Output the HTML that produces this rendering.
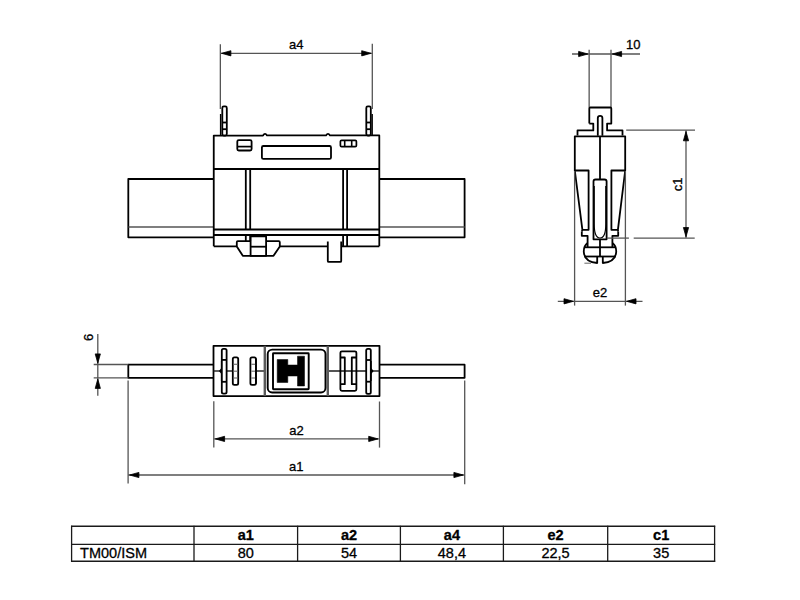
<!DOCTYPE html>
<html><head><meta charset="utf-8"><style>
html,body{margin:0;padding:0;background:#fff;width:800px;height:600px;overflow:hidden}
svg{position:absolute;left:0;top:0}
text{font-family:"Liberation Sans",sans-serif}
</style></head><body>
<svg width="800" height="600" viewBox="0 0 800 600" stroke-linecap="butt" stroke-linejoin="round">
<path d="M213.75,179 H128.3 V237.3 H213.75" stroke="#000" stroke-width="1.8" fill="none" />
<line x1="128.5" y1="227" x2="213.75" y2="227" stroke="#555" stroke-width="1.4" />
<path d="M379.3,179 H464.6 V237.3 H379.3" stroke="#000" stroke-width="1.8" fill="none" />
<line x1="379.3" y1="227" x2="464.6" y2="227" stroke="#555" stroke-width="1.4" />
<path d="M213.75,246.3 V135.6 H263 Q265,132.4 267,135.4 H326 Q328,132.4 330,135.4 H379.3 V246.3" stroke="#000" stroke-width="1.8" fill="none" />
<path d="M213.75,246.3 H236.8 M279.8,246.3 H327.8 M341.2,246.3 H379.3" stroke="#000" stroke-width="1.8" fill="none" />
<line x1="213.75" y1="169" x2="379.3" y2="169" stroke="#000" stroke-width="1.8" />
<line x1="213.75" y1="229.5" x2="379.3" y2="229.5" stroke="#000" stroke-width="1.8" />
<line x1="213.75" y1="235" x2="379.3" y2="235" stroke="#000" stroke-width="1.8" />
<line x1="245.8" y1="169" x2="245.8" y2="229.5" stroke="#000" stroke-width="1.8" />
<line x1="245.8" y1="235" x2="245.8" y2="241.3" stroke="#000" stroke-width="1.8" />
<line x1="250.2" y1="169" x2="250.2" y2="229.5" stroke="#000" stroke-width="1.8" />
<line x1="250.2" y1="235" x2="250.2" y2="241.3" stroke="#000" stroke-width="1.8" />
<line x1="343.1" y1="169" x2="343.1" y2="229.5" stroke="#000" stroke-width="1.8" />
<line x1="343.1" y1="235" x2="343.1" y2="246.3" stroke="#000" stroke-width="1.8" />
<line x1="347.1" y1="169" x2="347.1" y2="229.5" stroke="#000" stroke-width="1.8" />
<line x1="347.1" y1="235" x2="347.1" y2="246.3" stroke="#000" stroke-width="1.8" />
<rect x="237.3" y="140.1" width="14.3" height="10.4" rx="1.5" stroke="#000" stroke-width="1.8" fill="none"/>
<line x1="237.3" y1="146.6" x2="251.6" y2="146.6" stroke="#000" stroke-width="1.7" />
<rect x="261.9" y="146" width="69.1" height="12.9" rx="1.5" stroke="#000" stroke-width="1.8" fill="none"/>
<rect x="340.4" y="140.4" width="16" height="6.3" rx="1.2" stroke="#000" stroke-width="1.7" fill="none"/>
<line x1="344.7" y1="140.4" x2="344.7" y2="146.7" stroke="#000" stroke-width="1.6" />
<line x1="351.7" y1="140.4" x2="351.7" y2="146.7" stroke="#000" stroke-width="1.6" />
<rect x="222.3" y="106.4" width="4.5" height="29.2" rx="1.5" stroke="#000" stroke-width="1.8" fill="none"/>
<line x1="220.6" y1="114" x2="220.6" y2="135.6" stroke="#000" stroke-width="1.4" />
<line x1="222.3" y1="122.5" x2="226.8" y2="122.5" stroke="#000" stroke-width="1.8" />
<line x1="222.3" y1="129.2" x2="226.8" y2="129.2" stroke="#000" stroke-width="1.8" />
<rect x="366.3" y="106.4" width="4.5" height="29.2" rx="1.5" stroke="#000" stroke-width="1.8" fill="none"/>
<line x1="372.2" y1="114" x2="372.2" y2="135.6" stroke="#000" stroke-width="1.4" />
<line x1="366.3" y1="122.5" x2="370.8" y2="122.5" stroke="#000" stroke-width="1.8" />
<line x1="366.3" y1="129.2" x2="370.8" y2="129.2" stroke="#000" stroke-width="1.8" />
<path d="M250.6,241.2 H237.8 Q236.8,241.2 236.8,242.2 V246.5 L242.8,255.8 H273.5 L279.8,246.5 V242.2 Q279.8,241.2 278.8,241.2 H266.1" stroke="#000" stroke-width="1.8" fill="none" />
<rect x="250.6" y="236.4" width="15.5" height="19.4" rx="0" stroke="#000" stroke-width="1.8" fill="none"/>
<line x1="250.6" y1="246.7" x2="266.1" y2="246.7" stroke="#000" stroke-width="1.8" />
<path d="M327.8,241.5 V260.9 Q327.8,261.9 328.8,261.9 H340.2 Q341.2,261.9 341.2,260.9 V241.5" stroke="#000" stroke-width="1.8" fill="none" />
<line x1="220.35" y1="44.3" x2="220.35" y2="109" stroke="#555" stroke-width="1.3" />
<line x1="372.3" y1="43.8" x2="372.3" y2="109" stroke="#555" stroke-width="1.3" />
<line x1="220.35" y1="53.3" x2="372.3" y2="53.3" stroke="#555" stroke-width="1.3" />
<polygon points="221.60,53.30 230.90,50.70 230.90,55.90" fill="#000" stroke="#000" stroke-width="0.8" stroke-linejoin="round"/>
<polygon points="371.00,53.30 361.70,50.70 361.70,55.90" fill="#000" stroke="#000" stroke-width="0.8" stroke-linejoin="round"/>
<text x="296.3" y="48.8" font-size="13" text-anchor="middle" fill="#000" stroke="#000" stroke-width="0.3">a4</text>
<line x1="589.15" y1="49.7" x2="589.15" y2="107.5" stroke="#555" stroke-width="1.3" />
<line x1="611" y1="49.7" x2="611" y2="107.5" stroke="#555" stroke-width="1.3" />
<line x1="572" y1="54" x2="640" y2="54" stroke="#555" stroke-width="1.3" />
<polygon points="587.90,54.00 578.60,51.40 578.60,56.60" fill="#000" stroke="#000" stroke-width="0.8" stroke-linejoin="round"/>
<polygon points="612.30,54.00 621.60,51.40 621.60,56.60" fill="#000" stroke="#000" stroke-width="0.8" stroke-linejoin="round"/>
<text x="633.3" y="49.4" font-size="13" text-anchor="middle" fill="#000" stroke="#000" stroke-width="0.3">10</text>
<path d="M589.3,123.6 V108.5 Q589.3,107.5 590.3,107.5 H610.3 Q611.3,107.5 611.3,108.5 V123.6 H607.1 V130.4 H622.5 V135.6 M589.3,123.6 H593.3 V130.4 H577.5 V135.6" stroke="#000" stroke-width="1.8" fill="none" />
<path d="M597.8,135.8 V118 Q597.8,115.8 600.1,115.8 Q602.4,115.8 602.4,118 V135.8" stroke="#000" stroke-width="1.8" fill="none" />
<path d="M574.8,170.5 V136.3 H625.2 V170.5" stroke="#000" stroke-width="1.8" fill="none" />
<line x1="600" y1="136.3" x2="600" y2="179.5" stroke="#000" stroke-width="1.8" />
<path d="M574.8,170.5 H588.6 V229.8 H582.4 Z M582.4,229.8 L581.8,231.5" stroke="#000" stroke-width="1.8" fill="none" />
<path d="M625.2,170.5 H611.4 V229.8 H617.9 Z M617.9,229.8 L618.2,231.5" stroke="#000" stroke-width="1.8" fill="none" />
<path d="M581.8,231.5 V235.8 H587.6 V247.3" stroke="#000" stroke-width="1.8" fill="none" />
<path d="M618.2,231.5 V235.8 H612.4 V247.3" stroke="#000" stroke-width="1.8" fill="none" />
<path d="M593.5,239.3 V181.5 Q593.5,179.5 595.5,179.5 H604.5 Q606.6,179.5 606.6,181.5 V239.3 Z" stroke="#000" stroke-width="1.8" fill="none" />
<path d="M594.2,186 V224 Q594.2,238 600,238 Q605.8,238 605.8,224 V186" stroke="#000" stroke-width="1.2" fill="none" />
<path d="M587.6,243 Q583.5,246 583.8,252 Q584.5,262 597.2,263 V256.5" stroke="#000" stroke-width="1.8" fill="none" />
<path d="M612.4,243 Q616.5,246 616.2,252 Q615.5,262 602.8,263 V256.5" stroke="#000" stroke-width="1.8" fill="none" />
<line x1="584.3" y1="247.3" x2="615.7" y2="247.3" stroke="#000" stroke-width="1.8" />
<line x1="584.3" y1="256.5" x2="615.7" y2="256.5" stroke="#000" stroke-width="1.8" />
<line x1="600" y1="239.3" x2="600" y2="256.5" stroke="#000" stroke-width="1.8" />
<line x1="584.4" y1="263.2" x2="591" y2="263.2" stroke="#666" stroke-width="1.0" />
<line x1="574.6" y1="171" x2="574.6" y2="305.6" stroke="#555" stroke-width="1.3" />
<line x1="625.4" y1="171" x2="625.4" y2="305.6" stroke="#555" stroke-width="1.3" />
<line x1="557.8" y1="301.3" x2="642.5" y2="301.3" stroke="#555" stroke-width="1.3" />
<polygon points="573.30,301.30 564.00,298.70 564.00,303.90" fill="#000" stroke="#000" stroke-width="0.8" stroke-linejoin="round"/>
<polygon points="626.70,301.30 636.00,298.70 636.00,303.90" fill="#000" stroke="#000" stroke-width="0.8" stroke-linejoin="round"/>
<text x="600" y="296.8" font-size="13" text-anchor="middle" fill="#000" stroke="#000" stroke-width="0.3">e2</text>
<line x1="626.2" y1="130.2" x2="695" y2="130.2" stroke="#555" stroke-width="1.3" />
<line x1="606.8" y1="238.1" x2="628.9" y2="238.1" stroke="#555" stroke-width="1.3" />
<line x1="633.7" y1="238.1" x2="694.7" y2="238.1" stroke="#555" stroke-width="1.3" />
<line x1="686" y1="130.2" x2="686" y2="238.1" stroke="#555" stroke-width="1.3" />
<polygon points="686.00,131.50 683.40,140.80 688.60,140.80" fill="#000" stroke="#000" stroke-width="0.8" stroke-linejoin="round"/>
<polygon points="686.00,236.80 683.40,227.50 688.60,227.50" fill="#000" stroke="#000" stroke-width="0.8" stroke-linejoin="round"/>
<text x="682" y="184.4" font-size="13" text-anchor="middle" fill="#000" stroke="#000" stroke-width="0.3" transform="rotate(-90 682 184.4)">c1</text>
<path d="M213.5,364.7 H128.3 V377.8 H213.5" stroke="#000" stroke-width="1.8" fill="none" />
<path d="M379.5,364.7 H464.6 V377.8 H379.5" stroke="#000" stroke-width="1.8" fill="none" />
<rect x="213.5" y="345.8" width="166" height="50.3" rx="0" stroke="#000" stroke-width="1.8" fill="none"/>
<line x1="213.5" y1="371" x2="221.8" y2="371" stroke="#1a1a1a" stroke-width="1.4" />
<line x1="226.6" y1="371" x2="232.7" y2="371" stroke="#1a1a1a" stroke-width="1.4" />
<line x1="255.8" y1="371" x2="264.9" y2="371" stroke="#1a1a1a" stroke-width="1.4" />
<line x1="327.9" y1="371" x2="366.2" y2="371" stroke="#1a1a1a" stroke-width="1.4" />
<line x1="371" y1="371" x2="379.5" y2="371" stroke="#1a1a1a" stroke-width="1.4" />
<line x1="264.8" y1="345.8" x2="264.8" y2="396.1" stroke="#5a5a5a" stroke-width="2.4" />
<line x1="327.8" y1="345.8" x2="327.8" y2="396.1" stroke="#5a5a5a" stroke-width="2.4" />
<rect x="221.8" y="348.8" width="4.799999999999983" height="44.80000000000001" rx="1.6" stroke="#000" stroke-width="1.8" fill="none"/>
<line x1="221.8" y1="359.9" x2="226.6" y2="359.9" stroke="#000" stroke-width="1.8" />
<line x1="221.8" y1="381.8" x2="226.6" y2="381.8" stroke="#000" stroke-width="1.8" />
<line x1="221.5" y1="361" x2="221.5" y2="381" stroke="#000" stroke-width="1.2" />
<rect x="232.8" y="357.3" width="5.399999999999977" height="27.599999999999966" rx="1.6" stroke="#000" stroke-width="1.8" fill="none"/>
<rect x="250.4" y="357.3" width="5.5" height="27.599999999999966" rx="1.6" stroke="#000" stroke-width="1.8" fill="none"/>
<line x1="256.2" y1="358.5" x2="256.2" y2="383.7" stroke="#000" stroke-width="1.3" />
<line x1="233.6" y1="364.3" x2="237.4" y2="364.3" stroke="#777" stroke-width="1.2" />
<line x1="251.2" y1="364.3" x2="255.1" y2="364.3" stroke="#777" stroke-width="1.2" />
<line x1="233.6" y1="371.2" x2="237.4" y2="371.2" stroke="#777" stroke-width="1.2" />
<line x1="251.2" y1="371.2" x2="255.1" y2="371.2" stroke="#777" stroke-width="1.2" />
<line x1="233.6" y1="378" x2="237.4" y2="378" stroke="#777" stroke-width="1.2" />
<line x1="251.2" y1="378" x2="255.1" y2="378" stroke="#777" stroke-width="1.2" />
<rect x="366.2" y="348.8" width="4.600000000000023" height="45.0" rx="1.6" stroke="#000" stroke-width="1.8" fill="none"/>
<line x1="366.2" y1="360" x2="370.8" y2="360" stroke="#000" stroke-width="1.8" />
<line x1="366.2" y1="381.7" x2="370.8" y2="381.7" stroke="#000" stroke-width="1.8" />
<line x1="371.1" y1="361" x2="371.1" y2="381" stroke="#000" stroke-width="1.2" />
<polygon points="221.8,367.5 218.9,371 221.8,374.5" fill="#000"/>
<polygon points="370.8,367.5 373.6,371 370.8,374.5" fill="#000"/>
<rect x="267.7" y="349.6" width="57.8" height="42.9" rx="4.5" stroke="#000" stroke-width="1.9" fill="none"/>
<rect x="273" y="353.3" width="35.7" height="36" rx="0.5" stroke="#000" stroke-width="1.9" fill="none"/>
<path d="M277.2,359.5 H287.8 V365 H297.5 V356.2 H304.5 V386 H297.5 V376 H287.8 V382.5 H277.2 Z" stroke="#000" stroke-width="0.5" fill="#000" />
<rect x="340.4" y="351.3" width="16" height="39.5" rx="1.5" stroke="#000" stroke-width="1.8" fill="none"/>
<path d="M340.4,357.5 H344.8 V384.2 H340.4 M356.4,357.5 H351.8 V384.2 H356.4" stroke="#000" stroke-width="1.8" fill="none" />
<line x1="97.8" y1="334" x2="97.8" y2="395.7" stroke="#555" stroke-width="1.3" />
<line x1="93.7" y1="364.5" x2="128.3" y2="364.5" stroke="#555" stroke-width="1.3" />
<line x1="93.7" y1="377.8" x2="128.3" y2="377.8" stroke="#555" stroke-width="1.3" />
<polygon points="97.80,363.20 95.20,353.90 100.40,353.90" fill="#000" stroke="#000" stroke-width="0.8" stroke-linejoin="round"/>
<polygon points="97.80,379.10 95.20,388.40 100.40,388.40" fill="#000" stroke="#000" stroke-width="0.8" stroke-linejoin="round"/>
<text x="93.4" y="337.3" font-size="13" text-anchor="middle" fill="#000" stroke="#000" stroke-width="0.3" transform="rotate(-90 93.4 337.3)">6</text>
<line x1="128.1" y1="380.5" x2="128.1" y2="483.6" stroke="#555" stroke-width="1.3" />
<line x1="213.8" y1="401.3" x2="213.8" y2="447.6" stroke="#555" stroke-width="1.3" />
<line x1="379.5" y1="401.5" x2="379.5" y2="447.6" stroke="#555" stroke-width="1.3" />
<line x1="464.7" y1="380.4" x2="464.7" y2="484.3" stroke="#555" stroke-width="1.3" />
<line x1="213.8" y1="438.9" x2="379.5" y2="438.9" stroke="#555" stroke-width="1.3" />
<polygon points="215.30,438.90 224.60,436.30 224.60,441.50" fill="#000" stroke="#000" stroke-width="0.8" stroke-linejoin="round"/>
<polygon points="378.00,438.90 368.70,436.30 368.70,441.50" fill="#000" stroke="#000" stroke-width="0.8" stroke-linejoin="round"/>
<text x="296.6" y="435.2" font-size="13" text-anchor="middle" fill="#000" stroke="#000" stroke-width="0.3">a2</text>
<line x1="128.1" y1="475" x2="464.7" y2="475" stroke="#555" stroke-width="1.3" />
<polygon points="129.60,475.00 138.90,472.40 138.90,477.60" fill="#000" stroke="#000" stroke-width="0.8" stroke-linejoin="round"/>
<polygon points="463.20,475.00 453.90,472.40 453.90,477.60" fill="#000" stroke="#000" stroke-width="0.8" stroke-linejoin="round"/>
<text x="296.3" y="470.7" font-size="13" text-anchor="middle" fill="#000" stroke="#000" stroke-width="0.3">a1</text>
<line x1="71" y1="526.3" x2="715.2" y2="526.3" stroke="#1a1a1a" stroke-width="1.4" />
<line x1="71" y1="544.4" x2="715.2" y2="544.4" stroke="#1a1a1a" stroke-width="1.4" />
<line x1="71" y1="561.2" x2="715.2" y2="561.2" stroke="#1a1a1a" stroke-width="1.4" />
<line x1="71.6" y1="525.75" x2="71.6" y2="561.95" stroke="#1a1a1a" stroke-width="1.3" />
<line x1="194" y1="525.75" x2="194" y2="561.95" stroke="#1a1a1a" stroke-width="1.3" />
<line x1="297.6" y1="525.75" x2="297.6" y2="561.95" stroke="#1a1a1a" stroke-width="1.3" />
<line x1="400.4" y1="525.75" x2="400.4" y2="561.95" stroke="#1a1a1a" stroke-width="1.3" />
<line x1="503.4" y1="525.75" x2="503.4" y2="561.95" stroke="#1a1a1a" stroke-width="1.3" />
<line x1="607.7" y1="525.75" x2="607.7" y2="561.95" stroke="#1a1a1a" stroke-width="1.3" />
<line x1="714.6" y1="525.75" x2="714.6" y2="561.95" stroke="#1a1a1a" stroke-width="1.3" />
<text x="245.8" y="540.0" font-size="14.5" text-anchor="middle" font-weight="bold" fill="#000" stroke="#000" stroke-width="0.3">a1</text>
<text x="245.8" y="557.8" font-size="14.5" text-anchor="middle" fill="#000" stroke="#000" stroke-width="0.3">80</text>
<text x="349.0" y="540.0" font-size="14.5" text-anchor="middle" font-weight="bold" fill="#000" stroke="#000" stroke-width="0.3">a2</text>
<text x="349.0" y="557.8" font-size="14.5" text-anchor="middle" fill="#000" stroke="#000" stroke-width="0.3">54</text>
<text x="451.9" y="540.0" font-size="14.5" text-anchor="middle" font-weight="bold" fill="#000" stroke="#000" stroke-width="0.3">a4</text>
<text x="451.9" y="557.8" font-size="14.5" text-anchor="middle" fill="#000" stroke="#000" stroke-width="0.3">48,4</text>
<text x="555.55" y="540.0" font-size="14.5" text-anchor="middle" font-weight="bold" fill="#000" stroke="#000" stroke-width="0.3">e2</text>
<text x="555.55" y="557.8" font-size="14.5" text-anchor="middle" fill="#000" stroke="#000" stroke-width="0.3">22,5</text>
<text x="661.1500000000001" y="540.0" font-size="14.5" text-anchor="middle" font-weight="bold" fill="#000" stroke="#000" stroke-width="0.3">c1</text>
<text x="661.1500000000001" y="557.8" font-size="14.5" text-anchor="middle" fill="#000" stroke="#000" stroke-width="0.3">35</text>
<text x="80.1" y="557.8" font-size="14.5" text-anchor="start" fill="#000" stroke="#000" stroke-width="0.3">TM00/ISM</text>
</svg>
</body></html>
